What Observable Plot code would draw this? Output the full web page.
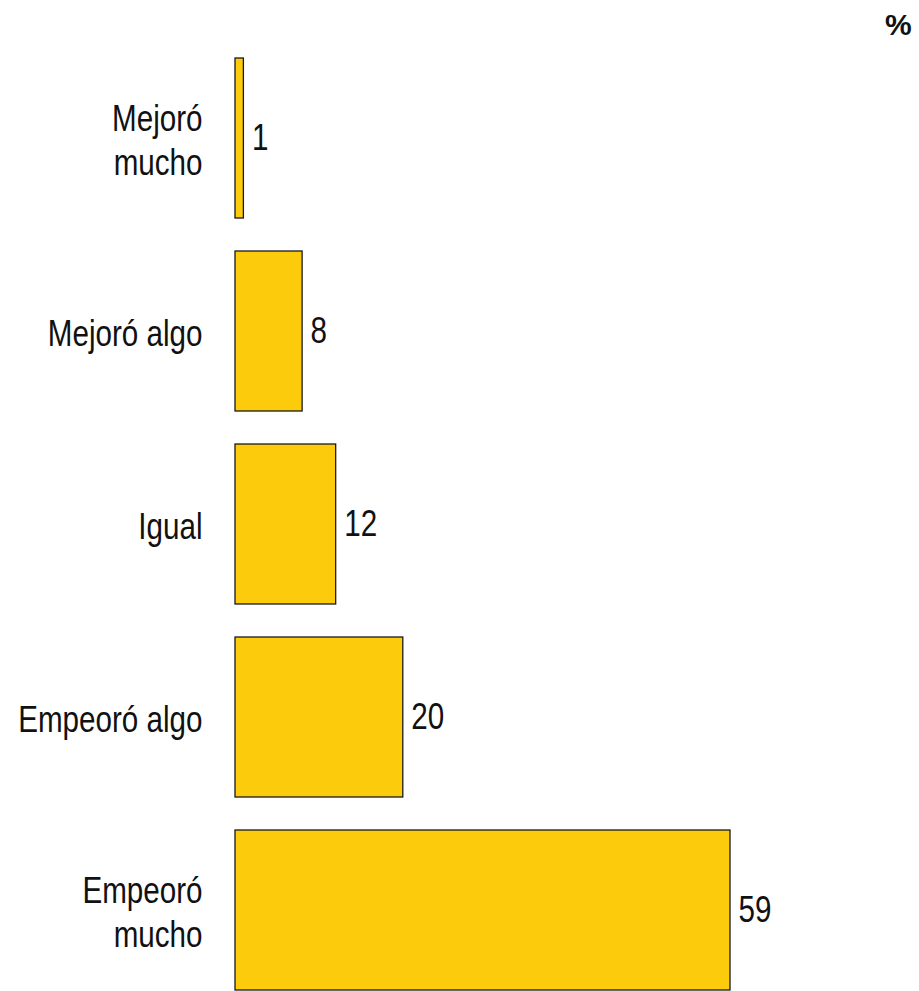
<!DOCTYPE html>
<html>
<head>
<meta charset="utf-8">
<script src="https://cdn.jsdelivr.net/npm/d3@7"></script>
<script src="https://cdn.jsdelivr.net/npm/@observablehq/plot@0.6"></script>
<style>
  html, body { margin: 0; padding: 0; background: #fff; overflow: hidden; }
  #wrap { position: relative; width: 919px; height: 991px; }
  #unit { position: absolute; left: 885px; top: 8px; font: bold 30px "Liberation Sans", Arial, sans-serif; color: #111; line-height: 34px; }
</style>
</head>
<body>
<div id="wrap">
  <div id="unit">%</div>
  <div id="chart"></div>
</div>
<script>
const categories = ["Mejoró\nmucho", "Mejoró algo", "Igual", "Empeoró algo", "Empeoró\nmucho"];
const values = [1, 8, 12, 20, 59];
const unitLabel = "%";

const data = categories.map((c, i) => ({category: c, value: values[i]}));
const font = "'Liberation Sans', Arial, sans-serif";

const chart = Plot.plot({
  width: 919,
  height: 993,
  marginLeft: 235,
  marginRight: 189,
  marginTop: 58,
  marginBottom: 0,
  style: {fontFamily: font, background: "#fff"},
  x: {domain: [0, d3.max(values)], axis: null},
  y: {domain: categories, axis: null, paddingInner: 0.172, paddingOuter: 0, align: 0},
  marks: [
    Plot.barX(data, {x: "value", y: "category", fill: "#FCCB0B", stroke: "#1a1a1a", strokeWidth: 1.3}),
    Plot.text(data, {x: "value", y: "category", text: d => String(d.value), textAnchor: "start", dx: 8,
      fontSize: 37, fill: "#111", className: "narrow"}),
    Plot.text(data, {y: "category", text: "category", frameAnchor: "left", textAnchor: "end", dx: -33,
      fontSize: 37, lineHeight: 1.2, fill: "#111", className: "narrow"})
  ]
});
// condense text horizontally around its anchor (narrow typeface look)
chart.querySelectorAll("g.narrow text").forEach(t => {
  const tr = t.getAttribute("transform") || "";
  t.setAttribute("transform", tr + " scale(0.8,1)");
});
document.getElementById("unit").textContent = unitLabel;
document.getElementById("chart").appendChild(chart);
</script>
</body>
</html>
